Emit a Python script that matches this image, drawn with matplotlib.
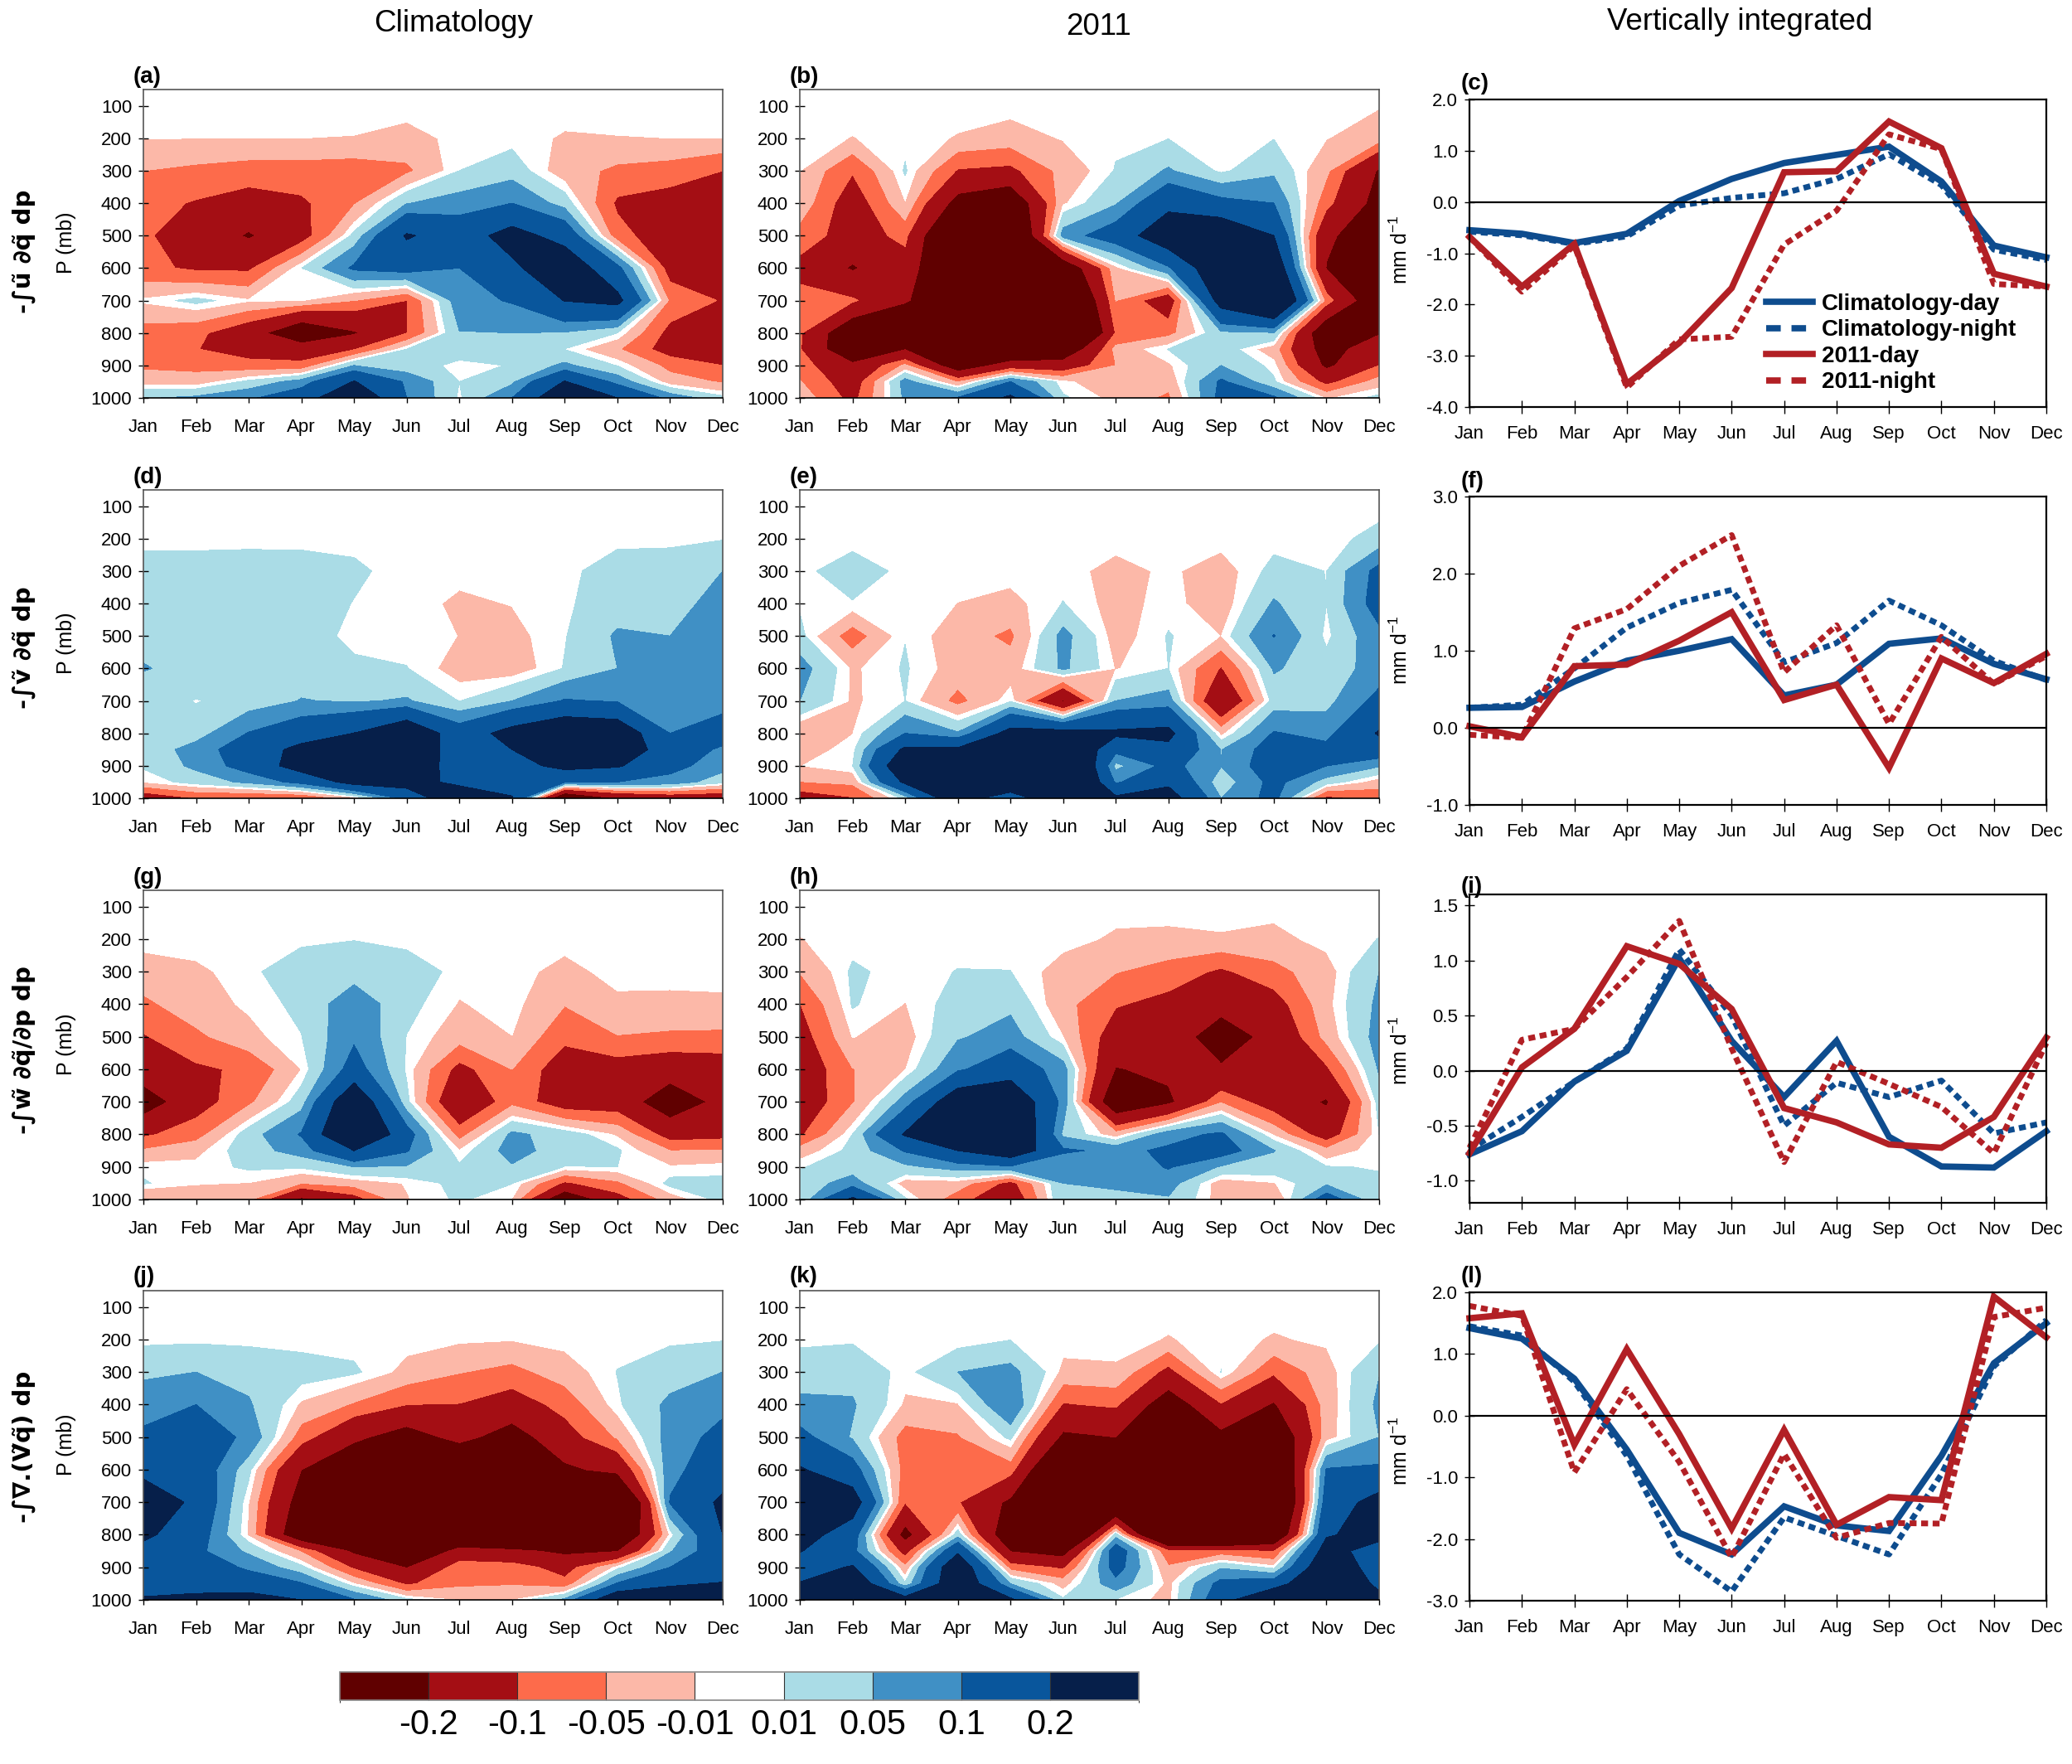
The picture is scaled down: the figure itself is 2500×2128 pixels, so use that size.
import numpy as np
import matplotlib
matplotlib.use('Agg')
import matplotlib.pyplot as plt
from matplotlib.colors import ListedColormap, BoundaryNorm
from matplotlib.cm import ScalarMappable
from matplotlib.lines import Line2D

plt.rcParams['font.family'] = ['Liberation Sans', 'DejaVu Sans']
plt.rcParams['axes.unicode_minus'] = False
plt.rcParams['mathtext.default'] = 'regular'

W, H = 2500, 2128

months = ['Jan', 'Feb', 'Mar', 'Apr', 'May', 'Jun', 'Jul', 'Aug', 'Sep', 'Oct', 'Nov', 'Dec']
pressure = [100, 200, 300, 400, 500, 600, 700, 800, 850, 900, 950, 1000]
p_ticks = [100, 200, 300, 400, 500, 600, 700, 800, 900, 1000]

# contour levels and colours
levels = [-1.0, -0.2, -0.1, -0.05, -0.01, 0.01, 0.05, 0.1, 0.2, 1.0]
level_labels = ['-0.2', '-0.1', '-0.05', '-0.01', '0.01', '0.05', '0.1', '0.2']
colors = ['#600000', '#a40e14', '#fd6b4b', '#fcb8a8', '#ffffff',
          '#aadce6', '#4090c5', '#09569c', '#061f4a']

# values below are in units of 0.01, rows go from 100 mb down to 1000 mb
panel_a = [
    [0, 0, 0, 0, 0, 0, 0, 0, 0, 0, 0, 0],
    [-0.9, -1, -1, -1, -1.1, -2, -0.3, 0, -1.3, -1.1, -1, -1],
    [-5, -6, -7, -7, -7.5, -6, 1, 3, -3, -6, -7, -10],
    [-8, -10.5, -13, -11, -5.5, 4.8, 7, 10, 3, -11, -13, -15],
    [-9, -14, -21, -13, 2, 21, 15, 24, 16, -8, -14, -18],
    [-8.5, -11, -11, 0.9, 11, 13, 10, 18, 28, 12, -13, -18],
    [-0.5, 2, -0.7, -0.9, -5, -10.1, 8, 10.5, 20.3, 23, -6, -10.5],
    [-7, -8.5, -15, -30, -21, -10.2, 4.8, 5, 4.5, 1, -12, -15],
    [-7.5, -9.8, -13, -14, -10.5, 1, 2, 2, 0.9, -4.5, -13, -16],
    [-6, -6.5, -8, -8.5, 5, 2, 0.5, 1.1, 6, 0.8, -6.5, -10],
    [-2.3, -3, 1.8, 7, 20.5, 9, 1, 4, 20.5, 8, -3, -5.5],
    [4.5, 6, 9, 15, 30, 10, 0.5, 10, 30, 20, 8, 2],
]
panel_b = [
    [0, 0, 0, 0, 0, 0, 0, 0, 0, 0, 0, -0.8],
    [0, -1.1, 0, -1.2, -2.5, -0.8, 0.5, 0.9, 0, 0.9, -0.9, -3],
    [-0.9, -9.5, 1.4, -10.5, -11.5, -3.5, 1.2, 5.5, 0.3, 4, -4, -21],
    [-2, -14, -1.2, -24, -30, -1.5, 4.5, 17, 12, 10, -8, -24],
    [-7, -13, -8.5, -40, -40, 7, 14, 28, 30, 20, -18, -28],
    [-12, -21, -13, -40, -40, -30, -2, 9, 30, 30, -20.5, -35],
    [-8, -9, -18, -40, -45, -45, -4.9, -15, 25, 40, -7, -30],
    [-9, -30, -45, -50, -50, -55, -9.5, -6.5, 4, 4.5, -30, -21],
    [-9.5, -30, -20.5, -32, -35, -30, -3.5, 1.1, 3, -3, -25, -13],
    [-7, -18, -4, -28, -15, -15, -5, -1.5, 5, 0, -22, -10],
    [-4.7, -14, 7, -5.5, 10, -0.5, -3, -3.5, 11, 1.5, -12, -3],
    [-2, -12, 6, 10.5, 22, 1.5, -2, -6, 12, 11, -1.5, 2],
]
panel_d = [
    [0, 0, 0, 0, 0, 0, 0, 0, 0, 0, 0, 0],
    [0.4, 0.4, 0.5, 0.45, 0.3, 0, 0, 0, 0, 0.5, 0.6, 0.8],
    [2, 2, 2, 2, 1.5, 0, -0.3, 0, 0.5, 2, 2, 5],
    [3, 3, 3, 2.5, 0.9, 0, -1.5, -0.9, 0.5, 3, 4, 6],
    [4, 3, 3, 2, 0.5, 0, -1.05, -2, 0.8, 5.6, 5, 7],
    [5.2, 4, 3.5, 3, 1.4, 1.1, -2.5, -3, 1.2, 5, 6, 7],
    [3, 0.8, 2.5, 5.2, 4.5, 5.5, 0.9, 5, 10.5, 9.5, 9, 8],
    [1.7, 3, 10.3, 15, 20.2, 30, 14, 24, 30, 28, 10, 13],
    [2, 7, 14, 23, 30, 30, 14, 20, 35, 28, 14, 9],
    [1.5, 6, 13, 25, 32, 28, 15, 16, 23, 21, 12, 7],
    [-1, 2.5, 6, 12, 24, 25, 17, 14, 10.5, 10, 8, 2],
    [-15, -10, -10.5, -10.5, -3, 12, 30, 21, -35, -20, -16, -16],
]
panel_e = [
    [0, 0, 0, 0, 0, 0, 0, 0, 0, 0, 0, 0],
    [0, 0, 0, 0, 0, 0, 0, 0, 0, 0, 0, 2],
    [0.3, 2.5, 0.3, 0, 0, 0, -2, -0.5, -2.5, 2, 0.95, 12],
    [0.6, 0.8, 0.4, -1.05, -2, 1.1, -2.2, 0, -3, 5.5, 1.05, 13],
    [2, -7.5, 0.9, -3, -6, 6.5, -2.5, 1.2, -1.05, 10.2, 0.2, 8.5],
    [7, -1.5, 1.3, -2.5, -3, 5.8, -1.2, 1, -10.5, 5.5, 2.5, 7],
    [5, -1.5, 1, -6.5, 0.5, -21, 5, 7, -19, 2.5, 3.5, 12],
    [-4.5, -1.1, 10, 5.5, 24, 25, 22, 23, -2, 10.5, 8, 21],
    [-2.5, 0, 22, 22, 30, 35, 12, 17, 4.8, 13, 12, 15],
    [-1.1, 0.9, 30, 35, 40, 45, 3.5, 12, 5.2, 14, 10, 5.5],
    [-5.2, -4, 22, 40, 40, 45, 9, 18, 2, 12, 3, -3],
    [-14, -10.5, 2, 30, 8, 40, 22, 25, 5, 12, -12, -8],
]
panel_g = [
    [0, 0, 0, 0, 0, 0, 0, 0, 0, 0, 0, 0],
    [0, 0, 0, 0, 0.9, 0, 0, 0, 0, 0, 0, 0],
    [-2.5, -1.5, 0, 4, 3, 3, 0, 0, -2, 0, 0, 0],
    [-6, -2.5, -0.5, 1.8, 8, 2, -1.2, 0, -4.8, -1.7, -1.8, -1.6],
    [-10.5, -6, -2, 0.9, 9, 0.9, -3, -1.05, -8.5, -5.2, -5.8, -6],
    [-14, -11, -9, -1, 13, 0.5, -12, -5, -14, -13, -15, -14],
    [-26, -13, -6, 3, 30, 2, -18, -6.5, -14, -14, -27, -17],
    [-11, -7, 3, 10.5, 35, 13, -7, 6, 3, -1.5, -13, -12],
    [-4.5, -2, 3, 7, 20, 10.5, -0.8, 7, 2.5, 1.5, -5, -4.8],
    [0.3, -0.2, 1.5, 1.5, 5, 4.5, 1.5, 4.5, 0.9, 1, -0.7, 0],
    [1.3, -0.8, -1.1, -5, -3, -0.8, 2, 1.1, -11, -6, 2, 1.8],
    [-5.5, -3, -4, -22, -13, -1.2, 1.5, -1.2, -30, -13, -3, 2],
]
panel_h = [
    [0, 0, 0, 0, 0, 0, 0, 0, 0, 0, 0, 0],
    [-1.1, 0, 0, 0, 0, 0, -1.5, -1.7, -1.3, -2, 0, 1.05],
    [-4.8, 1.5, 0, 1.1, 1.05, -2.5, -4.8, -7, -11, -6.5, -2.5, 5],
    [-10.2, 1.3, -1.1, 2.5, 4, -3.5, -9.5, -12, -17, -13, -2, 6],
    [-13, -0.9, -2.5, 4.5, 7, -1, -14, -15, -25, -17, -3.5, 7],
    [-15, -5.2, -1.1, 9, 15, 7, -20.5, -18, -19, -16, -11, 5.5],
    [-15, -5.5, 7, 28, 30, 8, -30, -22, -5.5, -14, -21, 2.5],
    [-11, 1, 21, 35, 35, 4, -3, 8, 11, -1.5, -14, 1],
    [-3, 2, 10.5, 20, 28, 11, 8.5, 11, 13, 5.2, -3.5, 0.7],
    [0.7, 3, 4, 7, 9, 5.2, 6, 10.5, 4.5, 3, 1.2, 0.8],
    [2.5, 7, -2.5, -2.5, -12, 5, 6, 7, -3, -1.2, 4, 1.5],
    [1, 22, 1.5, -8, -16, 5, 3.5, 4.5, -2.5, -5.2, 14, 0.9],
]
panel_j = [
    [0, 0, 0, 0, 0, 0, 0, 0, 0, 0, 0, 0],
    [0.3, 0.4, 0.3, 0, 0, 0, -0.5, -0.8, 0, 0, 0.5, 0.8],
    [4, 5, 3.5, 2.5, 1.5, -2, -4.8, -6.5, -2.8, 1.1, 3, 5],
    [8, 10, 5.5, -1.5, -5.5, -10, -10.2, -13.5, -8, 0.5, 6, 8.5],
    [11, 13, 9, -7.5, -18, -25, -17, -25, -13, -4.5, 7, 12],
    [16, 15, 2, -20, -30, -40, -35, -40, -22, -17, 8, 15],
    [30, 17, -1, -25, -40, -50, -50, -50, -40, -45, 10.5, 22],
    [22, 14, -1.5, -30, -35, -50, -40, -40, -35, -35, -0.5, 20],
    [17, 11.5, 4, -5.5, -22, -40, -15, -18, -22, -20.5, 4.5, 15],
    [15, 14, 9, 2, -11, -20.5, -7, -7, -13, 0, 10, 15],
    [18, 17, 14, 10.5, -1, -11, -6, -5.5, -8, 10.5, 19, 20.5],
    [20.5, 22, 25, 20, 10.5, 2, -1.3, -1.1, 6, 30, 25, 21],
]
panel_k = [
    [0, 0, 0, 0, 0, 0, 0, 0, 0, 0, 0, 0],
    [0.3, 0.6, 0, -0.5, 0.9, 0, 0, -1.2, 0, -1.3, -0.5, 0.5],
    [3, 3.5, 0, 5, 6.5, -1.8, -1.5, -12, 1.1, -9, -2.5, 4.8],
    [6, 5.5, -1.5, -1.3, 10, -10.5, -9, -27, -10.5, -21, -3, 6],
    [12, 4.5, -7, -5.5, 1.8, -22, -20, -35, -23, -32, -2.5, 5],
    [21, 13, -7, -7, -7.5, -40, -35, -45, -40, -40, 10.5, 11],
    [30, 26, -9.8, -9.5, -22, -50, -40, -50, -50, -45, 14, 24],
    [25, 14, -24, 3, -30, -50, 3, -50, -50, -35, 19, 24],
    [20.5, 12, -13, 18, -20.5, -25, 15, -9, -8, -10.5, 25, 14],
    [15, 21, -4, 30, -7, -11, 13, -4.5, 4.5, 0, 30, 14],
    [20.5, 30, 1.5, 30, 5, -2.5, 8, -2, 12, 14, 35, 17],
    [30, 30, 25, 30, 22, 1.5, 0.8, -2, 15, 35, 35, 24],
]

# vertically integrated series, mm/day
c_clim_day = [-0.55, -0.62, -0.8, -0.62, 0.02, 0.45, 0.76, 0.92, 1.08, 0.4, -0.85, -1.08]
c_clim_night = [-0.58, -0.65, -0.82, -0.67, -0.07, 0.08, 0.17, 0.45, 0.93, 0.33, -0.93, -1.13]
c_2011_day = [-0.68, -1.65, -0.82, -3.55, -2.75, -1.68, 0.58, 0.6, 1.57, 1.05, -1.4, -1.65]
c_2011_night = [-0.68, -1.75, -0.85, -3.62, -2.68, -2.63, -0.83, -0.17, 1.32, 1.03, -1.6, -1.65]

f_clim_day = [0.26, 0.27, 0.6, 0.87, 1, 1.15, 0.42, 0.56, 1.09, 1.16, 0.83, 0.63]
f_clim_night = [0.26, 0.3, 0.77, 1.3, 1.62, 1.79, 0.85, 1.1, 1.65, 1.33, 0.87, 0.62]
f_2011_day = [0.02, -0.12, 0.8, 0.82, 1.13, 1.5, 0.36, 0.56, -0.52, 0.9, 0.58, 0.96]
f_2011_night = [-0.09, -0.13, 1.29, 1.54, 2.1, 2.5, 0.72, 1.33, 0.05, 1.18, 0.57, 0.93]

i_clim_day = [-0.76, -0.55, -0.1, 0.18, 1.02, 0.27, -0.24, 0.27, -0.6, -0.87, -0.88, -0.55]
i_clim_night = [-0.72, -0.42, -0.1, 0.2, 1.1, 0.5, -0.5, -0.11, -0.24, -0.09, -0.57, -0.47]
i_2011_day = [-0.75, 0.03, 0.38, 1.13, 0.97, 0.56, -0.34, -0.47, -0.67, -0.7, -0.42, 0.3]
i_2011_night = [-0.7, 0.28, 0.38, 0.85, 1.36, 0.2, -0.83, 0.08, -0.12, -0.33, -0.75, 0.25]

l_clim_day = [1.42, 1.25, 0.6, -0.55, -1.9, -2.25, -1.47, -1.78, -1.87, -0.65, 0.85, 1.5]
l_clim_night = [1.45, 1.3, 0.55, -0.65, -2.25, -2.85, -1.65, -1.95, -2.25, -0.95, 0.8, 1.55]
l_2011_day = [1.58, 1.66, -0.47, 1.08, -0.3, -1.83, -0.23, -1.77, -1.32, -1.37, 1.93, 1.27]
l_2011_night = [1.78, 1.62, -0.92, 0.43, -0.75, -2.3, -0.62, -1.98, -1.74, -1.75, 1.6, 1.75]

blue = '#0e4c8e'
red = '#b22025'
night_dash = (1.2, 0.8)
legend_dash = (2.3, 1.7)


def axes_px(x0, x1, y0, y1):
    return fig.add_axes([x0 / W, 1 - y1 / H, (x1 - x0) / W, (y1 - y0) / H])


def text_px(x, y, s, **kw):
    fig.text(x / W, 1 - y / H, s, **kw)


def month_axis(ax):
    ax.set_xlim(0, 11)
    ax.set_xticks(range(12))
    ax.set_xticklabels(months, fontsize=16)


def contour_panel(x0, x1, y0, y1, data):
    ax = axes_px(x0, x1, y0, y1)
    ax.contourf(range(12), pressure, np.array(data) * 0.01, levels=levels, colors=colors)
    month_axis(ax)
    ax.set_ylim(1000, 50)
    ax.set_yticks(p_ticks)
    ax.tick_params(axis='x', direction='out', length=4, width=1, pad=14)
    ax.tick_params(axis='y', direction='inout', length=8, width=1, labelsize=16, pad=6)
    for side in ['top', 'left', 'right']:
        ax.spines[side].set_color('#555555')
    ax.spines['bottom'].set_color('black')
    for s in ax.spines.values():
        s.set_linewidth(1.2)
    return ax


def line_panel(y0, y1, ylim, yticks, day, night, day11, night11):
    ax = axes_px(1773, 2469, y0, y1)
    x = range(12)
    ax.plot(x, day, color=blue, lw=5.5, clip_on=False, solid_joinstyle='miter')
    ax.plot(x, night, color=blue, lw=5, dashes=night_dash, clip_on=False)
    ax.plot(x, night11, color=red, lw=5, dashes=night_dash, clip_on=False)
    ax.plot(x, day11, color=red, lw=5.5, clip_on=False, solid_joinstyle='miter')
    ax.axhline(0, color='black', lw=1.6)
    month_axis(ax)
    ax.set_ylim(*ylim)
    ax.set_yticks(yticks)
    ax.set_yticklabels(['%.1f' % v for v in yticks])
    ax.tick_params(axis='x', direction='inout', length=12, width=1, pad=10)
    ax.tick_params(axis='y', direction='inout', length=8, width=1, labelsize=16, pad=6)
    for s in ax.spines.values():
        s.set_linewidth(1.6)
    return ax


fig = plt.figure(figsize=(W / 100, H / 100), dpi=100)

col1 = (173, 872)
col2 = (965, 1664)
rows = [(108, 480), (591, 963), (1074, 1447), (1557, 1930)]

panels = [(col1, rows[0], panel_a), (col2, rows[0], panel_b),
          (col1, rows[1], panel_d), (col2, rows[1], panel_e),
          (col1, rows[2], panel_g), (col2, rows[2], panel_h),
          (col1, rows[3], panel_j), (col2, rows[3], panel_k)]
for col, row, data in panels:
    contour_panel(col[0], col[1], row[0], row[1], data)

ax_c = line_panel(120, 491, (-4, 2), [-4, -3, -2, -1, 0, 1, 2],
                  c_clim_day, c_clim_night, c_2011_day, c_2011_night)
line_panel(599, 971, (-1, 3), [-1, 0, 1, 2, 3],
           f_clim_day, f_clim_night, f_2011_day, f_2011_night)
line_panel(1079, 1451, (-1.2, 1.6), [-1, -0.5, 0, 0.5, 1, 1.5],
           i_clim_day, i_clim_night, i_2011_day, i_2011_night)
line_panel(1559, 1931, (-3, 2), [-3, -2, -1, 0, 1, 2],
           l_clim_day, l_clim_night, l_2011_day, l_2011_night)

handles = [Line2D([], [], color=blue, lw=5.5),
           Line2D([], [], color=blue, lw=5.5, dashes=legend_dash),
           Line2D([], [], color=red, lw=5.5),
           Line2D([], [], color=red, lw=5.5, dashes=legend_dash)]
ax_c.legend(handles, ['Climatology-day', 'Climatology-night', '2011-day', '2011-night'],
            loc='upper left', bbox_to_anchor=(0.515, 0.37), frameon=False,
            prop={'weight': 'bold', 'size': 20}, handlelength=2, handletextpad=0.4,
            labelspacing=0.2, borderpad=0, borderaxespad=0)

# colour bar
cax = axes_px(410, 1374, 2017, 2051)
sm = ScalarMappable(norm=BoundaryNorm(levels, 9), cmap=ListedColormap(colors))
cb = fig.colorbar(sm, cax=cax, orientation='horizontal', spacing='uniform',
                  boundaries=levels, ticks=levels[1:-1], drawedges=True)
cb.ax.set_xticklabels(level_labels, fontsize=30)
cb.ax.tick_params(length=0, pad=7)
cb.dividers.set_color('#333333')
cb.dividers.set_linewidth(0.8)
cb.outline.set_edgecolor('#888888')
cb.outline.set_linewidth(1.2)

# column titles
text_px(547, 28, 'Climatology', fontsize=26.5, ha='center', va='center')
text_px(1326, 32, '2011', fontsize=26.5, ha='center', va='center')
text_px(2099, 27, 'Vertically integrated', fontsize=26.5, ha='center', va='center')

# panel labels
tags = [('(a)', 161, 93), ('(b)', 953, 93), ('(c)', 1763, 101),
        ('(d)', 161, 576), ('(e)', 953, 576), ('(f)', 1763, 581),
        ('(g)', 161, 1059), ('(h)', 953, 1059), ('(i)', 1763, 1070),
        ('(j)', 161, 1540), ('(k)', 953, 1540), ('(l)', 1763, 1540)]
for s, x, y in tags:
    text_px(x, y, s, fontsize=20, fontweight='bold', ha='left', va='center')

# row labels and axis units
row_labels = [('-\u222bu\u0303 \u2202q\u0303 dp', 303), ('-\u222bv\u0303 \u2202q\u0303 dp', 781),
              ('-\u222bw\u0303 \u2202q\u0303/\u2202p dp', 1267), ('-\u222b\u2207.(V\u0303q\u0303) dp', 1745)]
for s, y in row_labels:
    text_px(29, y, s, fontsize=21, fontweight='bold', family='DejaVu Sans',
            rotation=90, ha='center', va='center')

for row in rows:
    y = (row[0] + row[1]) / 2 - 1
    text_px(80, y, 'P (mb)', fontsize=18, rotation=90, ha='center', va='center')
    text_px(1690, y + 8, 'mm d$^{-1}$', fontsize=18, rotation=90, ha='center', va='center')

fig.savefig('out.png', dpi=100, facecolor='white')
